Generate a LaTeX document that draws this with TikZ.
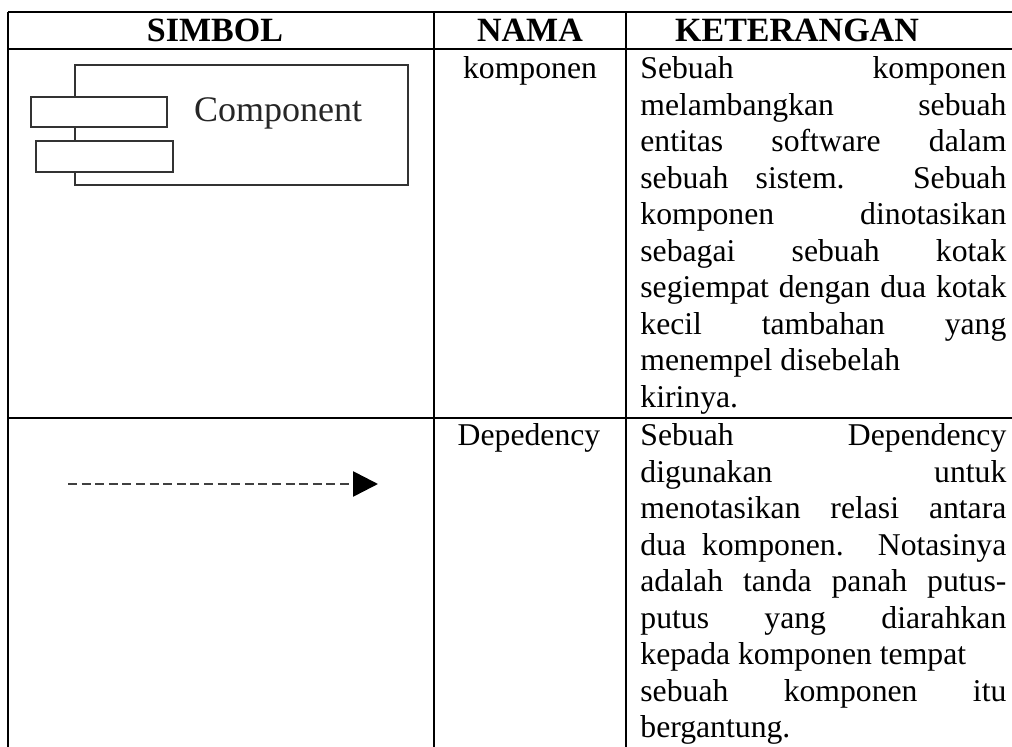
\documentclass[tikz,border=0pt]{standalone}
\usepackage{fontspec}
\setmainfont{Liberation Serif}
\usetikzlibrary{arrows.meta}
\newcommand\bodyfont{\fontsize{15.85}{18.25}\selectfont}
\newcommand\hdfont{\fontsize{17}{20}\selectfont\bfseries}
\newcommand\jln[1]{\makebox[\linewidth][s]{#1}\\}
\newcommand\lln[1]{#1\\}
\begin{document}
\begin{tikzpicture}[x=0.5pt,y=-0.5pt,
  grid/.style={line width=1pt, draw=black},
  comp/.style={draw=black!80, line width=0.6pt, fill=white},
  hd/.style={anchor=base, inner sep=0pt, font=\hdfont},
  nm/.style={anchor=base, inner sep=0pt, font=\bodyfont},
  desc/.style={anchor=base west, inner sep=0pt, font=\bodyfont},
  dep/.style={draw=black!75, line width=1.3pt, dash pattern=on 4.5pt off 2.3pt,
    -{Triangle[length=12.5pt,width=12.5pt,color=black]}}]
\useasboundingbox (0,0) rectangle (1012,747);
% table grid
\draw[grid] (8,12) -- (1012,12);
\draw[grid] (8,49) -- (1012,49);
\draw[grid] (8,418) -- (1012,418);
\draw[grid] (8,12) -- (8,747);
\draw[grid] (434,12) -- (434,747);
\draw[grid] (626,12) -- (626,747);
% headers
\node[hd] (h1) at (215,41.5) {SIMBOL};
\node[hd] (h2) at (530,41.5) {NAMA};
\node[hd] (h3) at (797,41.5) {KETERANGAN};
% component symbol
\draw[comp] (75,65) rectangle (408,185);
\draw[comp] (31,97) rectangle (167,127);
\draw[comp] (36,141) rectangle (173,172);
\node[anchor=base, inner sep=0pt, text=black!85, font=\fontsize{18}{20}\selectfont] (comptext) at (278,122) {Component};
% dependency symbol
\coordinate (ds) at (68,484);
\coordinate (de) at (378,484);
\draw[dep] (ds) -- (de);
% names
\node[nm] (n1) at (530,79) {komponen};
\node[nm] (n2) at (529,446) {Depedency};
% descriptions
\node[desc] (k1) at (640,79) {\begin{minipage}[t]{183pt}\bodyfont
\jln{Sebuah komponen}
\jln{melambangkan sebuah}
\jln{entitas software dalam}
\jln{sebuah sistem. Sebuah}
\jln{komponen dinotasikan}
\jln{sebagai sebuah kotak}
\jln{segiempat dengan dua kotak}
\jln{kecil tambahan yang}
\lln{menempel disebelah}
kirinya.
\end{minipage}};
\node[desc] (k2) at (640,446) {\begin{minipage}[t]{183pt}\bodyfont
\jln{Sebuah Dependency}
\jln{digunakan untuk}
\jln{menotasikan relasi antara}
\jln{dua komponen. Notasinya}
\jln{adalah tanda panah putus-}
\jln{putus yang diarahkan}
\lln{kepada komponen tempat}
\jln{sebuah komponen itu}
bergantung.
\end{minipage}};
\end{tikzpicture}
\end{document}
